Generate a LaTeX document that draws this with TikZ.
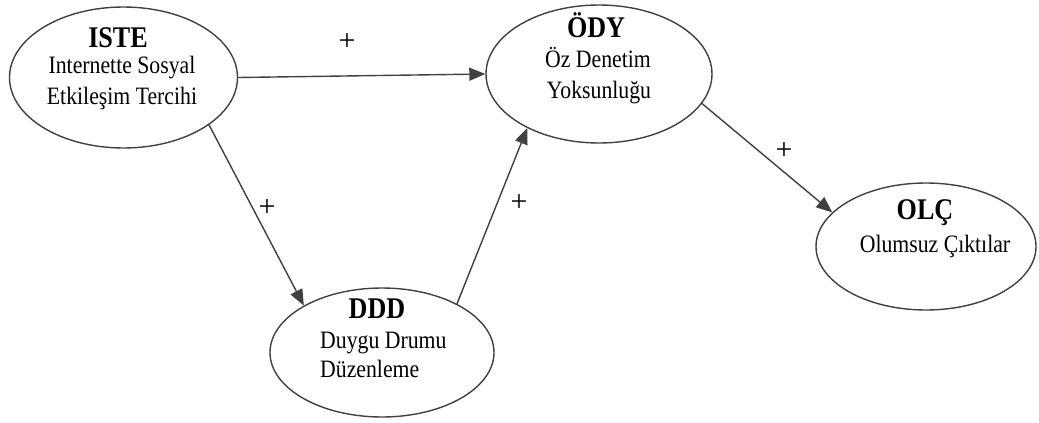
\documentclass[tikz,border=0pt]{standalone}
\usepackage{fontspec}
\setmainfont{Liberation Serif}
\newfontfamily\tfont{Liberation Serif}[FakeStretch=0.87]
\usetikzlibrary{arrows.meta,shapes.geometric}
\begin{document}
\begin{tikzpicture}[x=1pt,y=-1pt,
  oval/.style={draw=black!75,line width=1.4pt,ellipse,inner sep=0pt},
  ttl/.style={anchor=base,inner sep=0pt,font=\tfont\fontsize{30}{30}\selectfont\bfseries},
  sub/.style={anchor=base,inner sep=0pt,font=\tfont\fontsize{25}{25}\selectfont},
  sign/.style={inner sep=0pt,font=\fontsize{30}{30}\selectfont},
  arr/.style={draw=black!75,line width=1.4pt,-{Triangle[length=16pt,width=13pt]}}]
\useasboundingbox (0,0) rectangle (1039,423);
% ellipses
\node[oval,minimum width=228pt,minimum height=141pt] (iste) at (123.5,77.5) {};
\node[oval,minimum width=226pt,minimum height=138pt] (ody) at (599,74) {};
\node[oval,minimum width=224pt,minimum height=129pt] (ddd) at (382,352.5) {};
\node[oval,minimum width=220pt,minimum height=127pt] (olc) at (926,246.5) {};
% texts
\node[ttl] (isteT) at (118,47) {ISTE};
\node[sub] (isteA) at (122,73) {Internette Sosyal};
\node[sub] (isteB) at (122,104) {Etkileşim Tercihi};
\node[ttl] (odyT) at (596,37) {ÖDY};
\node[sub] (odyA) at (598,67) {Öz Denetim};
\node[sub] (odyB) at (599,98) {Yoksunluğu};
\node[ttl] (dddT) at (377,318) {DDD};
\node[sub,anchor=base west] (dddA) at (320,348) {Duygu Drumu};
\node[sub,anchor=base west] (dddB) at (320,377) {Düzenleme};
\node[ttl] (olcT) at (925,219) {OLÇ};
\node[sub] (olcA) at (935,252) {Olumsuz Çıktılar};
% connectors
\draw[arr] (iste.east) -- (ody.west);
\draw[arr] (iste.-29) -- (ddd.149);
\draw[arr] (ddd.33) -- (ody.217);
\draw[arr] (ody.-16) -- (olc.160);
% signs
\node[sign] (p1) at (347,42) {+};
\node[sign] (p2) at (267,208) {+};
\node[sign] (p3) at (519,203) {+};
\node[sign] (p4) at (784,151) {+};
\end{tikzpicture}
\end{document}
